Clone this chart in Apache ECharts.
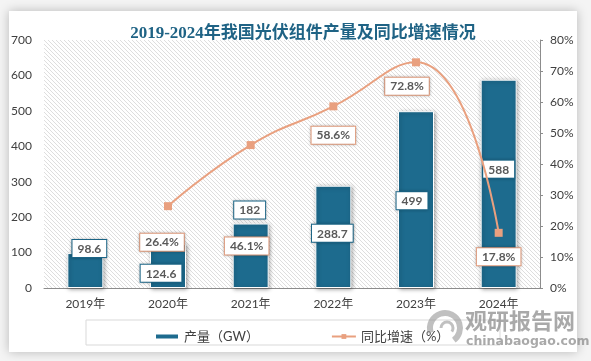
<!DOCTYPE html>
<html><head><meta charset="utf-8">
<script src="https://cdn.jsdelivr.net/npm/echarts@6/dist/echarts.min.js"></script>
<style>html,body{margin:0;padding:0;background:#f4f4f4;}#c{width:591px;height:361px;}</style>
</head><body><div id="c"></div>
<script>
// ---- data ----
const titleText = '2019-2024年我国光伏组件产量及同比增速情况';
const categories = ['2019年','2020年','2021年','2022年','2023年','2024年'];
const output = [98.6, 124.6, 182, 288.7, 499, 588];
const growth = ['-', 26.4, 46.1, 58.6, 72.8, 17.8];
const outputName = '产量（GW）';
const growthName = '同比增速（%）';
// ---- styling (label offsets in px) ----
const barLabelOffsets = [[4,4],[-7,38],[-1,-5],[-1,56],[-4,98],[0,98]];
const lineLabelOffsets = [[0,0],[-6,36],[-4,101],[0,29],[-9,24],[0,24]];

const BLUE = '#1d6b8e', ORANGE = '#e9a07f';
const numFont = 'Lato, "Noto Sans CJK SC", sans-serif';

// hatch pattern
const pc = document.createElement('canvas');
pc.width = 4; pc.height = 4;
const pctx = pc.getContext('2d');
pctx.fillStyle = '#ffffff'; pctx.fillRect(0,0,4,4);
pctx.fillStyle = '#dedede';
for (let i = 0; i < 4; i++) pctx.fillRect(i, i, 1, 1);

const chart = echarts.init(document.getElementById('c'));
chart.setOption({
  animation: false,
  backgroundColor: 'transparent',
  title: {
    text: titleText, left: 298, top: 20, textAlign: 'center',
    textStyle: { fontFamily: '"Liberation Serif", "Noto Sans CJK SC", serif', fontSize: 17, fontWeight: 'bold', color: '#1f6385' }
  },
  grid: { left: 44, right: 51, top: 40, bottom: 73, show: true, borderWidth: 0,
    backgroundColor: { image: pc, repeat: 'repeat' } },
  legend: {
    left: 154, top: 330, padding: 0, itemGap: 72, itemWidth: 24, itemHeight: 6,
    textStyle: { fontFamily: numFont, fontSize: 13, color: '#404040' },
    data: [{ name: outputName, icon: 'rect' }, { name: growthName }]
  },
  xAxis: {
    type: 'category', data: categories,
    axisLine: { lineStyle: { color: '#8c8c8c' } },
    axisTick: { show: false },
    axisLabel: { color: '#404040', fontFamily: numFont, fontSize: 12, margin: 10 }
  },
  yAxis: [
    { type: 'value', min: 0, max: 700, interval: 100,
      axisLine: { show: false }, axisTick: { show: false }, splitLine: { show: false },
      axisLabel: { color: '#404040', fontFamily: numFont, fontSize: 12, margin: 12 } },
    { type: 'value', min: 0, max: 80, interval: 10,
      axisLine: { show: true, lineStyle: { color: '#8c8c8c' } },
      axisTick: { show: true, length: 3, lineStyle: { color: '#8c8c8c' } },
      splitLine: { show: false },
      axisLabel: { color: '#404040', fontFamily: numFont, fontSize: 12, margin: 10, formatter: '{value}%' } }
  ],
  series: [
    { name: outputName, type: 'bar', barWidth: 36, yAxisIndex: 0, z: 2,
      itemStyle: { color: BLUE, borderColor: '#ffffff', borderWidth: 1,
        shadowBlur: 4, shadowColor: 'rgba(0,0,0,0.35)', shadowOffsetX: 1, shadowOffsetY: 1 },
      data: output.map((v, i) => ({
        value: v,
        label: { show: true, position: 'top', distance: 0, offset: barLabelOffsets[i],
          backgroundColor: '#fff', borderColor: BLUE, borderWidth: 1, padding: [3, 5, 2, 5],
          color: '#595959', fontWeight: 'bold', fontSize: 12, fontFamily: numFont,
          shadowBlur: 3, shadowColor: 'rgba(0,0,0,0.25)' }
      }))
    },
    { name: growthName, type: 'line', yAxisIndex: 1, smooth: true, z: 5,
      symbol: 'rect', symbolSize: 8,
      lineStyle: { color: ORANGE, width: 2 },
      itemStyle: { color: ORANGE },
      data: growth.map((v, i) => ({
        value: v,
        label: { show: true, position: 'inside', offset: lineLabelOffsets[i], formatter: '{c}%',
          backgroundColor: '#fff', borderColor: ORANGE, borderWidth: 1, padding: [3, 5, 2, 5],
          color: '#595959', fontWeight: 'bold', fontSize: 12, fontFamily: numFont,
          shadowBlur: 3, shadowColor: 'rgba(0,0,0,0.25)' }
      }))
    }
  ],
  graphic: [
    { type: 'rect', z: -100, silent: true,
      shape: { x: 9, y: 11, width: 568, height: 341 },
      style: { fill: '#ffffff', shadowBlur: 10, shadowColor: 'rgba(0,0,0,0.25)' } },
    { type: 'rect', z: -50, silent: true,
      shape: { x: 86, y: 320, width: 414, height: 25 },
      style: { fill: 'none', stroke: '#d9d9d9', lineWidth: 1 } },
    { type: 'arc', z: 100, silent: true,
      shape: { cx: 445, cy: 328, r: 15, startAngle: Math.PI * 0.9, endAngle: Math.PI * 2.3 },
      style: { stroke: 'rgba(150,150,150,0.6)', lineWidth: 6, fill: 'none' } },
    { type: 'arc', z: 100, silent: true,
      shape: { cx: 447, cy: 328, r: 6, startAngle: Math.PI * 1.0, endAngle: Math.PI * 2.2 },
      style: { stroke: 'rgba(150,150,150,0.6)', lineWidth: 3, fill: 'none' } },
    { type: 'text', z: 100, silent: true, left: 465, top: 310,
      style: { text: '观研报告网', fill: 'rgba(140,140,140,0.75)', font: 'bold 22px "Noto Sans CJK SC"' } },
    { type: 'text', z: 100, silent: true, left: 466, top: 335,
      style: { text: 'chinabaogao.com', fill: 'rgba(140,140,140,0.75)', font: 'bold 12.5px "DejaVu Sans"' } }
  ]
});
</script></body></html>
